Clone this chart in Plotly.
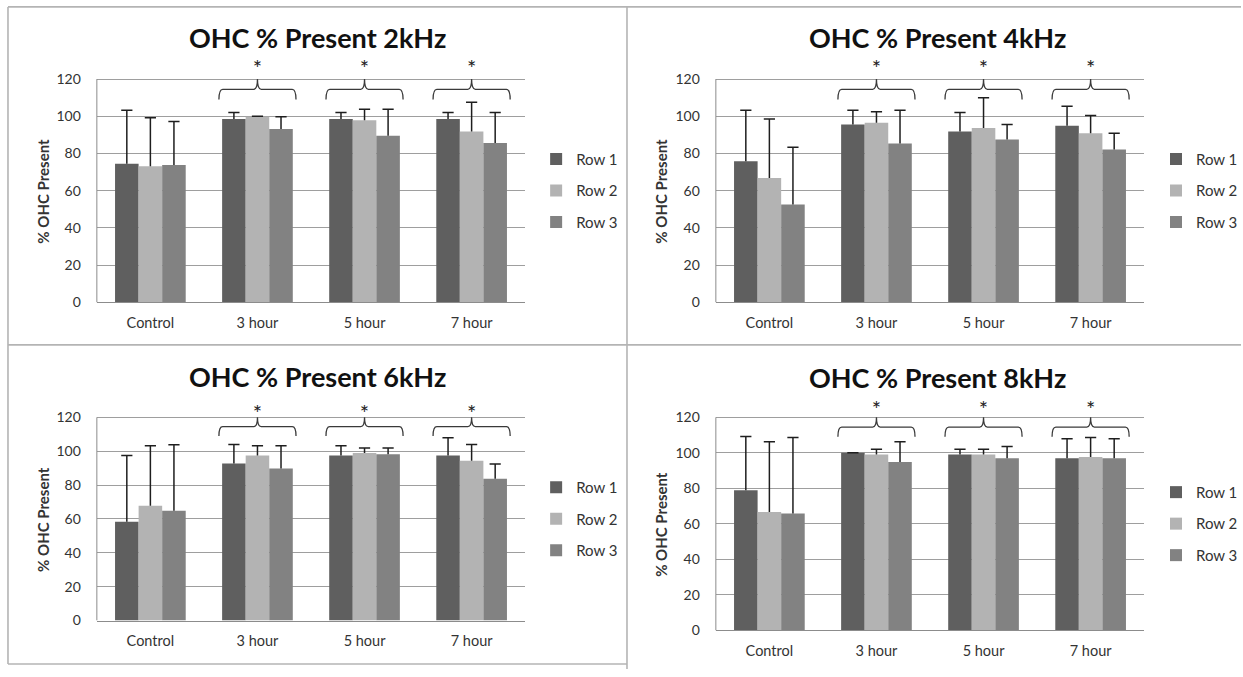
import plotly.graph_objects as go

# ---------------- data ----------------
categories = ["Control", "3 hour", "5 hour", "7 hour"]
series_names = ["Row 1", "Row 2", "Row 3"]
tick_values = [0, 20, 40, 60, 80, 100, 120]

titles = ["OHC % Present 2kHz", "OHC % Present 4kHz", "OHC % Present 6kHz", "OHC % Present 8kHz"]
y_title = "% OHC Present"

p2k_row1 = [74.5, 98.5, 98.5, 98.5]
p2k_row2 = [73.1, 99.7, 97.9, 91.8]
p2k_row3 = [73.8, 93.2, 89.6, 85.6]
p2k_err1 = [28.7, 3.5, 3.5, 3.5]
p2k_err2 = [26.1, 0.3, 5.9, 15.7]
p2k_err3 = [23.4, 6.5, 14.2, 16.4]

p4k_row1 = [75.9, 95.6, 91.8, 94.9]
p4k_row2 = [66.9, 96.5, 93.7, 90.9]
p4k_row3 = [52.6, 85.4, 87.5, 82.1]
p4k_err1 = [27.3, 7.6, 10.2, 10.5]
p4k_err2 = [31.6, 5.9, 16.2, 9.5]
p4k_err3 = [30.7, 17.8, 8.1, 8.8]

p6k_row1 = [58.4, 92.7, 97.4, 97.4]
p6k_row2 = [67.8, 97.4, 99.0, 94.3]
p6k_row3 = [64.9, 89.8, 98.2, 83.8]
p6k_err1 = [39.0, 11.3, 5.8, 10.5]
p6k_err2 = [35.4, 5.8, 2.9, 9.7]
p6k_err3 = [38.9, 13.4, 3.7, 8.7]

p8k_row1 = [78.9, 100.0, 99.0, 97.0]
p8k_row2 = [66.7, 99.0, 99.0, 97.7]
p8k_row3 = [65.9, 94.9, 97.0, 97.0]
p8k_err1 = [30.3, 0.0, 3.0, 10.9]
p8k_err2 = [39.6, 3.0, 3.0, 11.0]
p8k_err3 = [42.8, 11.4, 6.5, 10.9]

significant_groups = [1, 2, 3]          # groups marked with a bracket and "*"
bracket_base = 109.0                    # bracket end level
bracket_mid = 114.5                     # bracket horizontal level
bracket_peak = 120.0                    # bracket centre tip
star_level = [124.8, 124.8, 120.8, 123.1]

panel_values = [
    [p2k_row1, p2k_row2, p2k_row3],
    [p4k_row1, p4k_row2, p4k_row3],
    [p6k_row1, p6k_row2, p6k_row3],
    [p8k_row1, p8k_row2, p8k_row3],
]
panel_errors = [
    [p2k_err1, p2k_err2, p2k_err3],
    [p4k_err1, p4k_err2, p4k_err3],
    [p6k_err1, p6k_err2, p6k_err3],
    [p8k_err1, p8k_err2, p8k_err3],
]

# ---------------- style / layout ----------------
W, H = 1243, 677
FONT = "Lato"
colors = ["#5f5f5f", "#b3b3b3", "#828282"]
BARGAP = 0.34
YMAX = 128
YAXIS_TOP = 120

def px_x(v):
    return v / W

def px_y(v):
    return 1 - v / H

# plot rectangles in pixels: left, right, y of value 0, y of value 120
rects = [
    (97, 526, 306, 80),
    (717, 1146, 306, 80),
    (97, 526, 628, 422.3),
    (717, 1146, 638, 422.3),
]
title_pos = [(318, 38), (939, 38), (318, 381), (939, 382)]
ytitle_x = [43, 662, 43, 662]
legend_x = [537, 1158, 537, 1158]

fig = go.Figure()
annotations = []
shapes = []
bar_w = (1 - BARGAP) / 3

for p in range(4):
    ax = "" if p == 0 else str(p + 1)
    xref, yref = "x" + ax, "y" + ax
    legend_name = "legend" + ax
    left, right, y0, y120 = rects[p]
    yper = (y0 - y120) / 120.0
    ytop = y0 - YMAX * yper

    for k in range(3):
        fig.add_trace(go.Bar(
            x=list(range(len(categories))), y=panel_values[p][k], name=series_names[k],
            marker=dict(color=colors[k], line=dict(width=0)),
            xaxis=xref, yaxis=yref, legend=legend_name, legendgroup=series_names[k],
        ))
    # error bars (upper half only)
    for k in range(3):
        ex, ey, cx, cy = [], [], [], []
        for i in range(len(categories)):
            xi = i + (k - 1) * bar_w
            v = panel_values[p][k][i]
            e = panel_errors[p][k][i]
            ex += [xi, xi, None]
            ey += [v, v + e, None]
            cx.append(xi)
            cy.append(v + e)
        fig.add_trace(go.Scatter(
            x=ex, y=ey, mode="lines", line=dict(color="#1e1e1e", width=1.5),
            xaxis=xref, yaxis=yref, showlegend=False, hoverinfo="skip"))
        fig.add_trace(go.Scatter(
            x=cx, y=cy, mode="markers",
            marker=dict(symbol="line-ew", size=8, line=dict(color="#1e1e1e", width=1.5)),
            xaxis=xref, yaxis=yref, showlegend=False, hoverinfo="skip"))

    # brackets and stars
    h = 1.5 * bar_w + 0.03
    r = 0.035
    for g in significant_groups:
        c = g
        path = (f"M {c-h},{bracket_base} Q {c-h},{bracket_mid} {c-h+r},{bracket_mid} "
                f"L {c-r},{bracket_mid} Q {c},{bracket_mid} {c},{bracket_peak} "
                f"Q {c},{bracket_mid} {c+r},{bracket_mid} L {c+h-r},{bracket_mid} "
                f"Q {c+h},{bracket_mid} {c+h},{bracket_base}")
        shapes.append(dict(type="path", path=path, xref=xref, yref=yref,
                           line=dict(color="#3a3a3a", width=1.3)))
    fig.add_trace(go.Scatter(
        x=significant_groups, y=[star_level[p]] * len(significant_groups),
        mode="text", text=["*"] * len(significant_groups), textposition="middle center",
        textfont=dict(family=FONT, size=22, color="#222"), cliponaxis=False,
        xaxis=xref, yaxis=yref, showlegend=False, hoverinfo="skip"))

    # left axis line only up to the top tick
    shapes.append(dict(type="line", xref=xref + " domain", yref=yref, x0=0, x1=0,
                       y0=0, y1=YAXIS_TOP, line=dict(color="#8c8c8c", width=1)))

    xaxis = dict(domain=[px_x(left), px_x(right)], range=[-0.5, len(categories) - 0.5],
                 tickmode="array", tickvals=list(range(len(categories))), ticktext=categories,
                 showgrid=False, zeroline=False, showline=True, linecolor="#8c8c8c", linewidth=1,
                 ticks="", ticklabelstandoff=7,
                 tickfont=dict(family=FONT, size=14.5, color="#333"), anchor=yref, fixedrange=True)
    yaxis = dict(domain=[px_y(y0), px_y(ytop)], range=[0, YMAX], tickvals=tick_values,
                 showgrid=True, gridcolor="#9e9e9e", gridwidth=1, zeroline=False,
                 showline=False, ticks="",
                 ticklabelstandoff=15, tickfont=dict(family=FONT, size=14, color="#333"),
                 anchor=xref, fixedrange=True)
    fig.update_layout(**{"xaxis" + ax: xaxis, "yaxis" + ax: yaxis})

    fig.update_layout(**{legend_name: dict(
        x=px_x(legend_x[p]), xanchor="left", y=px_y((y0 + y120) / 2), yanchor="middle",
        traceorder="grouped", tracegroupgap=9, bgcolor="rgba(0,0,0,0)",
        font=dict(family=FONT, size=15, color="#333"))})

    tx, ty = title_pos[p]
    annotations.append(dict(x=px_x(tx), y=px_y(ty), xref="paper", yref="paper", text=titles[p],
                            showarrow=False, font=dict(family=FONT, size=27, color="#111", weight="bold"),
                            xanchor="center", yanchor="middle"))
    annotations.append(dict(x=px_x(ytitle_x[p]), y=px_y((y0 + y120) / 2), xref="paper", yref="paper",
                            text=y_title, textangle=-90, showarrow=False,
                            font=dict(family=FONT, size=15, color="#333", weight="bold"),
                            xanchor="center", yanchor="middle"))

# panel frames
frame = dict(color="#b4b4b4", width=1.6)
for x0, y0_, x1, y1_ in [
    (8, 7, W, 7), (8, 7, 8, 672), (628, 7, 628, H), (8, 349, W, 349), (8, 672, 628, 672),
]:
    shapes.append(dict(type="line", xref="paper", yref="paper", x0=px_x(x0), y0=px_y(y0_),
                       x1=px_x(x1), y1=px_y(y1_), line=frame))

fig.update_layout(
    width=W, height=H, margin=dict(l=0, r=0, t=0, b=0),
    paper_bgcolor="white", plot_bgcolor="white",
    barmode="group", bargap=BARGAP, bargroupgap=0,
    annotations=annotations, shapes=shapes,
    font=dict(family=FONT),
)

fig.write_html("out.html", config={"displayModeBar": False},
               post_script="document.body.style.margin='0';")
